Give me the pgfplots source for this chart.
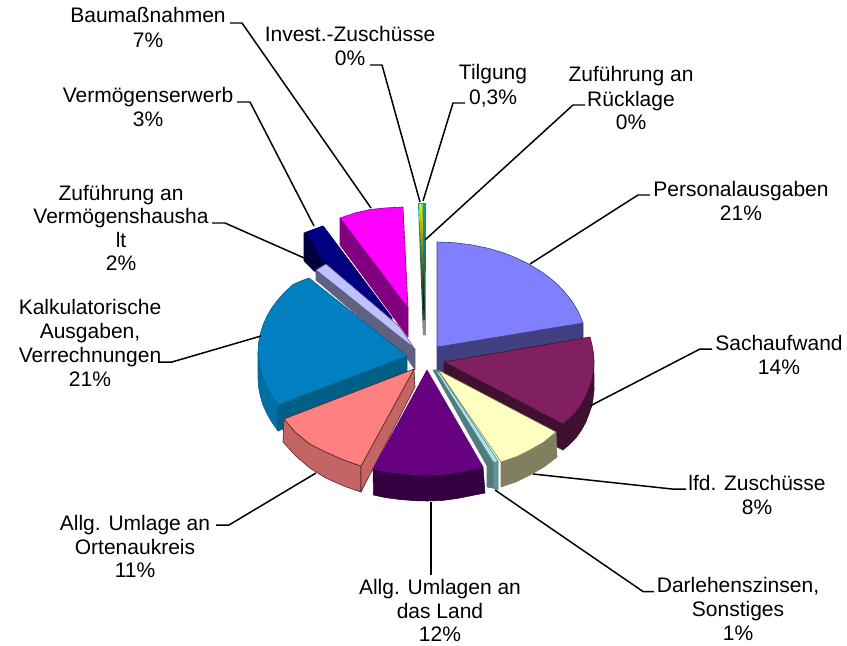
\documentclass[border=0pt]{standalone}
\usepackage{pgfplots}
\pgfplotsset{compat=1.18}
\usepackage{fontspec}
\setmainfont{Liberation Sans}
\newcommand\poly[3]{\addplot[fill=#1,draw=#2,line width=.6pt,line join=round] coordinates {#3} -- cycle;}
\newcommand\lead[1]{\addplot[black,line width=1.5pt,line join=round] coordinates {#1};}
\newcommand\lab[3]{\node[anchor=base,inner sep=0pt,font=\fontsize{21bp}{24bp}\selectfont,text=black] at (axis cs:#1,#2) {#3};}
\definecolor{peri}{HTML}{8080FF}\definecolor{periS}{HTML}{404080}
\definecolor{sach}{HTML}{802060}\definecolor{sachS}{HTML}{401030}
\definecolor{lfd}{HTML}{FFFFC0}\definecolor{lfdS}{HTML}{808060}
\definecolor{dar}{HTML}{A8E8EC}\definecolor{darS}{HTML}{507C7E}\definecolor{darT}{HTML}{609498}
\definecolor{land}{HTML}{660080}\definecolor{landS}{HTML}{330040}
\definecolor{ort}{HTML}{FF8080}\definecolor{ortS}{HTML}{C46464}
\definecolor{kalk}{HTML}{0080C0}\definecolor{kalkS}{HTML}{0070A4}\definecolor{kalkF}{HTML}{005F86}
\definecolor{lav}{HTML}{C0C0FF}\definecolor{lavS}{HTML}{606080}
\definecolor{navy}{HTML}{000080}\definecolor{navyS}{HTML}{000040}
\definecolor{mag}{HTML}{FF00FF}\definecolor{magS}{HTML}{800080}
\begin{document}
\begin{tikzpicture}
\path[use as bounding box] (0,0) rectangle (847bp,646bp);
\begin{axis}[at={(0,0)},anchor=south west,hide axis,scale only axis,width=847bp,height=646bp,xmin=0,xmax=847,ymin=0,ymax=646,y dir=reverse,clip=false]
% thin slices
\addplot[draw=none,top color=teal!70!cyan,middle color=teal!50!black,bottom color=black!80] coordinates {(418,203)(426,203)(425.5,335)(423,335)} -- cycle;
\addplot[draw=none,top color=yellow!90!black,middle color=olive!80!black,bottom color=black] coordinates {(419,204)(422.5,204)(424.5,310)(423.5,310)} -- cycle;
\addplot[draw=none,fill=black!45] coordinates {(423.3,320)(425.5,320)(425.5,335)(423.3,335)} -- cycle;
% Baumassnahmen
\poly{magS}{magS}{(340,218)(340,245)(408,337)(408,308)}
\poly{mag}{magS}{(340,218)(355,213)(370,209.5)(385,208)(403,207)(408,308)}
% Vermoegenserwerb
\poly{navyS}{navyS}{(304,233)(304,261)(313,270)(392,328)(392,318)(323,226)}
\poly{navy}{navy}{(307,232)(323,226)(392,318)(380,312)(320,256)}
% Zufuehrung Vermoegenshaushalt
\poly{lavS}{lavS}{(316,271)(316,280)(407,358)(415,370)(415,349)}
\poly{lav}{lavS}{(316,270)(326,264)(400,327)(414,348)}
% Kalkulatorische
\poly{kalkS}{kalkF}{(258,352)(258.6,361.2)(260.3,370.2)(263.1,379.2)(267,387.9)(272,396.4)(278,405)(278,431)(272,422.4)(267,413.9)(263.1,405.2)(260.3,396.2)(258.6,387.2)(258,378)}
\poly{kalkF}{kalkF}{(278,405)(278,431)(407,383)(407,356)}
\poly{kalk}{kalkF}{(407,356)(309,278)(301,281)(293.1,284.5)(285.1,291.8)(278.1,299.5)(272,307.6)(267,316)(263.1,324.8)(260.3,333.8)(258.6,342.8)(258,352)(258.6,361.2)(260.3,370.2)(263.1,379.2)(267,387.9)(272,396.4)(278,405)}
% Ortenau
\poly{ortS}{black!60!ortS}{(284,419)(295.8,432.6)(309.8,444)(325.8,452)(343.6,460)(361,466)(361,492)(343.6,486)(325.8,478)(309.8,468)(295.8,456)(283,442)}
\poly{ortS}{black!60!ortS}{(414,369)(415,387)(361,492)(361,466)}
\poly{ort}{black!60!ortS}{(414,369)(284,419)(295.8,432.6)(309.8,444)(325.8,452)(343.6,460)(361,466)}
% Personal
\poly{periS}{periS}{(437,347)(437,373)(583,349)(583,323)}
\poly{peri}{periS}{(437,347)(437,242)(454,242.7)(470.7,244.7)(488.3,248.3)(502.8,252.6)(516.5,258)(529.3,264.3)(543,272.8)(553.6,280.9)(562.8,289.8)(571.8,301)(578,311.1)(583,323)}
% Sachaufwand
\poly{sachS}{sachS}{(593.9,362)(593,373)(591.7,380.2)(589,388)(585.8,396.2)(581.5,404)(576.4,411.3)(570,418)(563,424)(563,450)(570,444)(576.4,437.3)(581.5,430)(585.8,422.2)(589,414)(591.7,406.2)(593,399)(594,390)}
\poly{sachS}{sachS}{(444,362)(444,388)(563,450)(563,424)}
\poly{sach}{sachS}{(444,362)(590,337)(592,345)(593.4,352.8)(594,360)(593.9,365.7)(593,373)(591.7,380.2)(589,388)(585.8,396.2)(581.5,404)(576.4,411.3)(570,418)(563,424)}
% lfd. Zuschuesse
\poly{lfdS}{lfdS}{(556,432)(544,442)(530,450)(517,456.5)(501,462)(501,487)(517,481.5)(530,475)(544,467)(557,457)}
\poly{lfd}{lfdS}{(438,370)(556,432)(544,442)(530,450)(517,456.5)(501,462)}
% Darlehen
\poly{darS}{darS}{(433,370)(437,370)(493,463)(493,488)(487,487)(487,466)}
\poly{darT}{darS}{(493,463)(498,461)(498,490)(493,488)}
\poly{dar}{darS}{(436,371)(439,372)(498,461)(494,463)}
% Allg. Umlagen Land
\poly{landS}{landS}{(373,469)(385,471.5)(400,473.5)(415,474.7)(427,475)(442,474.5)(457,472.5)(472,469.5)(483,467)(485,493)(472,495.5)(457,498.5)(442,500.5)(427,501)(415,500.7)(400,499.5)(385,497.5)(373.5,495)}
\poly{land}{land}{(427,370)(483,467)(472,469.5)(457,472.5)(442,474.5)(427,475)(415,474.7)(400,473.5)(385,471.5)(373,469)}
% leader lines
\lead{(230,23)(242,23)(371,208)}
\lead{(237,102)(250,102)(314,226)}
\lead{(212,223)(225,223)(320,265)}
\lead{(158,362)(172,362)(261,336)}
\lead{(216,525)(229,525)(316,473)}
\lead{(431,502)(431,575)}
\lead{(495,490)(643,591.5)(654,591.5)}
\lead{(533,474)(672,489)(686,489)}
\lead{(590,406)(700,349)(712,349)}
\lead{(530,264)(638,195)(650,195)}
\lead{(425,240)(573,105)(585,105)}
\lead{(423,201)(453,103)(465,103)}
\lead{(420,202)(382,65)(370,65)}
% labels
\lab{148}{23}{Baumaßnahmen}\lab{148}{48}{7\%}
\lab{148}{102}{Vermögenserwerb}\lab{148}{126}{3\%}
\lab{121}{200}{Zuführung an}\lab{121}{223}{Vermögenshausha}\lab{121}{247}{lt}\lab{121}{270}{2\%}
\lab{90}{314}{Kalkulatorische}\lab{90}{338}{Ausgaben,}\lab{90}{362}{Verrechnungen}\lab{90}{386}{21\%}
\lab{135}{530}{Allg. Umlage an}\lab{135}{554}{Ortenaukreis}\lab{135}{577}{11\%}
\lab{440}{594}{Allg. Umlagen an}\lab{440}{618}{das Land}\lab{440}{641}{12\%}
\lab{350}{42}{Invest.-Zuschüsse}\lab{350}{66}{0\%}
\lab{493}{80}{Tilgung}\lab{493}{104}{0,3\%}
\lab{631}{82}{Zuführung an}\lab{631}{106}{Rücklage}\lab{631}{129}{0\%}
\lab{741}{196}{Personalausgaben}\lab{741}{220}{21\%}
\lab{779}{350}{Sachaufwand}\lab{779}{374}{14\%}
\lab{757}{490}{lfd. Zuschüsse}\lab{757}{514}{8\%}
\lab{738}{592}{Darlehenszinsen,}\lab{738}{616}{Sonstiges}\lab{738}{640}{1\%}
\end{axis}
\end{tikzpicture}
\end{document}
